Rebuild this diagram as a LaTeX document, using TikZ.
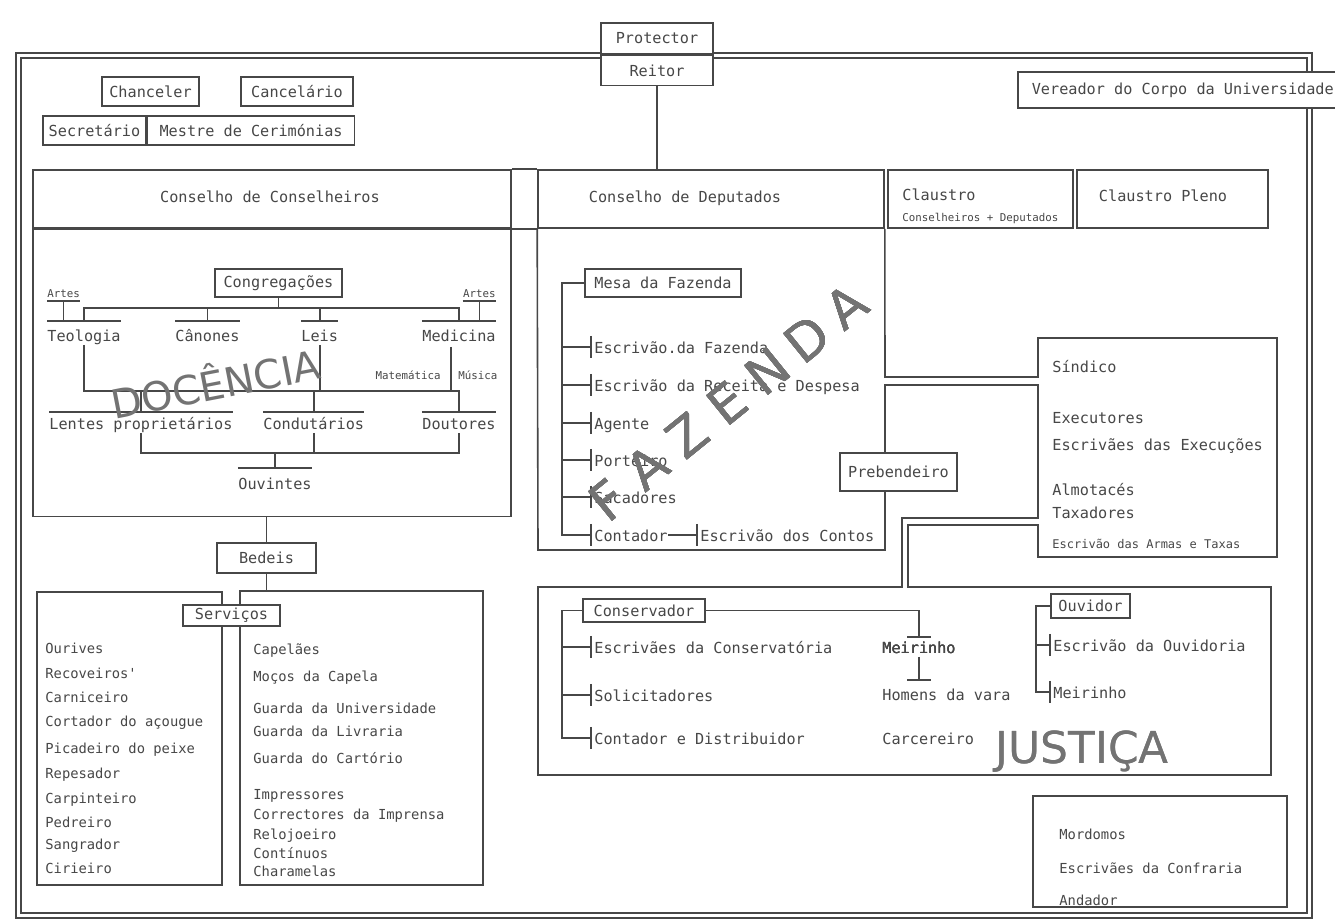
\documentclass[tikz,border=0pt]{standalone}
\usepackage{fontspec}
\setmainfont{DejaVu Sans}
\setmonofont{DejaVu Sans Mono}
\usetikzlibrary{positioning}
\definecolor{ink}{gray}{0.28}
\definecolor{stencil}{gray}{0.45}
\newcommand{\fmain}{\ttfamily\fontsize{7.6}{9}\selectfont}
\newcommand{\flist}{\ttfamily\fontsize{6.9}{8}\selectfont}
\newcommand{\fmid}{\ttfamily\fontsize{6}{7}\selectfont}
\newcommand{\fsmall}{\ttfamily\fontsize{5.4}{6}\selectfont}
\newcommand{\fbig}[1]{\normalfont\fontsize{#1}{#1}\selectfont}
\tikzset{%
    wire/.style={draw=ink,line width=.8pt},%
    sz/.style 2 args={minimum width=#1*.5pt,minimum height=#2*.5pt},%
    box/.style={wire,fill=white,inner sep=0pt,font=\fmain,text=ink},%
    lbl/.style={font=\fmain,text=ink,inner sep=0pt,text height=1.5ex,text depth=.25ex},%
    entry/.style={lbl,anchor=west},%
    lst/.style={entry,font=\flist},%
    minor/.style={lbl,font=\fsmall},%
    stamp/.style={font=\fbig{#1},text=stencil,inner sep=0pt}%
}
% little bar in front of a list entry
\newcommand{\brtick}[1]{%
  \draw[wire] ([xshift=-1.5pt,yshift=5.5pt]#1.west) -- ++(0,22);
}

\begin{document}
\begin{tikzpicture}[x=.5pt,y=-.5pt]
  \useasboundingbox[fill=white] (0,0) rectangle (1335,924);
  \clip (0,0) rectangle (1335,924);

  % double frame
  \draw[wire] (16,53) rectangle (1312,918);
  \draw[wire] (21,58) rectangle (1307,913);

  % head of the university
  \node[box,sz={112}{31}] (prot) at (657,38.5) {Protector};
  \node[box,sz={112}{30},anchor=north] (reit) at (prot.south) {Reitor};
  \node[box,sz={97}{29}] (chanc) at (150.5,91.5) {Chanceler};
  \node[box,sz={112}{29}] (cancl) at (297,91.5) {Cancelário};
  \node[box,sz={103}{29}] (secr) at (94.5,130.5) {Secretário};
  \node[box,sz={207}{29},anchor=west] (mestre) at (secr.east) {Mestre de Cerimónias};
  \node[box,sz={330}{36},anchor=west] (vere) at (1017,90) {Vereador do Corpo da Universidade};

  % councils
  \node[box,sz={478}{58}] (hcons) at (272,199) {};
  \node[box,sz={346}{58}] (hdep) at (711,199) {};
  \node[box,sz={185}{58}] (claus) at (980.5,199) {};
  \node[box,sz={191}{58}] (pleno) at (1172.5,199) {};
  \draw[wire] (hcons.north east) -- (hdep.north west) (hcons.south east) -- (hdep.south west);
  \node[lbl] (tcons) at (270,196) {Conselho de Conselheiros};
  \node[lbl] (tdep) at (685,196) {Conselho de Deputados};
  \node[lbl,anchor=west] (tclaus) at (902,194) {Claustro};
  \node[minor,anchor=west] (tcd) at (902,215) {Conselheiros + Deputados};
  \node[lbl] (tpleno) at (1163,195) {Claustro Pleno};
  \draw[wire] (reit.south) -- (reit.south |- hdep.north);

  % docencia
  \node[box,sz={478}{287},anchor=north] (docbox) at (hcons.south) {};
  \node[box,sz={127}{28}] (cong) at (278.5,283) {Congregações};
  \node[entry] (teo) at (47,335) {Teologia};
  \node[entry] (can) at (175,335) {Cânones};
  \node[entry] (leis) at (301,335) {Leis};
  \node[entry,anchor=east] (med) at (496,335) {Medicina};
  \node[minor,anchor=south west] (artl) at (47,301) {Artes};
  \node[minor,anchor=south east] (artr) at (496,301) {Artes};
  \draw[wire] (cong.south) -- (cong.south |- 0,308);
  \draw[wire] (teo.north |- 0,321) |- (med.north |- 0,308) -- (med.north |- 0,321);
  \draw[wire] (can.north |- 0,308) -- (can.north |- 0,321);
  \draw[wire] (leis.north |- 0,308) -- (leis.north |- 0,321);
  \foreach \n in {teo,can,leis,med}
    \draw[wire] (\n.west |- 0,321) -- (\n.east |- 0,321);
  \foreach \n in {artl,artr}
    \draw[wire] (\n.south west) -- (\n.south east) (\n.south) -- (\n.south |- 0,321);

  \node[entry] (lent) at (49,423) {Lentes proprietários};
  \node[entry] (cond) at (263,423) {Condutários};
  \node[entry,anchor=east] (dout) at (496,423) {Doutores};
  \node[minor,anchor=east] (mat) at (441,373) {Matemática};
  \node[minor,anchor=west] (mus) at (458,373) {Música};
  \coordinate (mline) at (451,347);
  \draw[wire] (teo.south) |- (dout.north |- 0,391) -- (dout.north |- 0,412);
  \draw[wire] (leis.south) -- (leis.south |- 0,391);
  \draw[wire] (mline) -- (mline |- 0,391);
  \draw[wire] (lent.north |- 0,391) -- (lent.north |- 0,412);
  \draw[wire] (cond.north |- 0,391) -- (cond.north |- 0,412);
  \foreach \n in {lent,cond,dout}
    \draw[wire] (\n.west |- 0,412) -- (\n.east |- 0,412);

  \node[lbl] (ouv) at (275,483) {Ouvintes};
  \draw[wire] (lent.south) |- (dout.south |- 0,453) -- (dout.south);
  \draw[wire] (cond.south) -- (cond.south |- 0,453);
  \draw[wire] (ouv.north |- 0,453) -- (ouv.north |- 0,468);
  \draw[wire] (ouv.west |- 0,468) -- (ouv.east |- 0,468);
  \node[stamp=20,rotate=11] (doc) at (215,381) {DOCÊNCIA};

  % fazenda, sindico and justica outline
  \draw[wire] (hdep.south east) -- (885,377) -- (1038,377) -- (1038,338)
    -- (1277,338) -- (1277,557) -- (1038,557) -- (1038,525) -- (908,525)
    -- (908,587) -- (1271,587) -- (1271,775) -- (538,775) -- (538,587)
    -- (902,587) -- (902,518) -- (1038,518) -- (1038,385) -- (885,385)
    -- (885,550) -- (538,550) -- (hdep.south west);

  \node[box,sz={156}{28}] (mesa) at (663,283) {Mesa da Fazenda};
  \node[entry] (ef) at (594,347) {Escrivão.da Fazenda};
  \node[entry] (er) at (594,385) {Escrivão da Receita e Despesa};
  \node[entry] (ag) at (594,423) {Agente};
  \node[entry] (po) at (594,460) {Porteiro};
  \node[entry] (sa) at (594,497) {Sacadores};
  \node[entry] (co) at (594,535) {Contador};
  \node[entry] (ec) at (700,535) {Escrivão dos Contos};
  \draw[wire] (mesa.west) -- ++(-22,0) |- ([xshift=-1.5pt]co.west);
  \foreach \n in {ef,er,ag,po,sa}
    \draw[wire] ([xshift=-1.5pt]\n.west) -- ++(-28,0);
  \draw[wire] (co.east) -- ([xshift=-1.5pt]ec.west);
  \foreach \n in {ef,er,ag,po,sa,co,ec}
    \brtick{\n}
  \foreach \c [count=\i from 0] in {F,A,Z,E,N,D,A}
    \node[stamp=26,rotate=39] (fz\i) at ({608+\i*39.8},{500-\i*32.2}) {\c};

  \node[entry] (sind) at (1052,366) {Síndico};
  \node[entry] (exe) at (1052,417) {Executores};
  \node[entry] (esx) at (1052,444) {Escrivães das Execuções};
  \node[entry] (alm) at (1052,489) {Almotacés};
  \node[entry] (tax) at (1052,512) {Taxadores};
  \node[entry,font=\fmid] (arm) at (1052,542) {Escrivão das Armas e Taxas};
  \node[box,sz={117}{38}] (preb) at (898.5,472) {Prebendeiro};

  \node[box,sz={122}{23}] (consv) at (644,610.5) {Conservador};
  \node[entry] (ecv) at (594,647) {Escrivães da Conservatória};
  \node[entry] (sol) at (594,695) {Solicitadores};
  \node[entry] (cdi) at (594,738) {Contador e Distribuidor};
  \draw[wire] (consv.west) -- ++(-20,0) |- ([xshift=-1.5pt]cdi.west);
  \foreach \n in {ecv,sol}
    \draw[wire] ([xshift=-1.5pt]\n.west) -- ++(-28,0);
  \foreach \n in {ecv,sol,cdi}
    \brtick{\n}
  \node[entry] (mei) at (882,647) {Meirinho};
  \node[entry] (hom) at (882,694) {Homens da vara};
  \node[entry] (carc) at (882,738) {Carcereiro};
  \coordinate (mtop) at (mei.north |- 0,637);
  \coordinate (htop) at (mei.north |- 0,680);
  \draw[wire] (consv.east) -| (mtop);
  \draw[wire] (mei.south) -- (htop);
  \foreach \p in {mtop,htop}
    \draw[wire] ([xshift=-6pt]\p) -- ([xshift=6pt]\p);

  \node[box,sz={79}{24}] (ouvd) at (1090.5,606) {Ouvidor};
  \node[entry] (eov) at (1053,645) {Escrivão da Ouvidoria};
  \node[entry] (omei) at (1053,692) {Meirinho};
  \draw[wire] (ouvd.west) -- ++(-14,0) |- ([xshift=-1.5pt]omei.west);
  \draw[wire] ([xshift=-1.5pt]eov.west) -- ++(-13,0);
  \foreach \n in {eov,omei}
    \brtick{\n}
  \node[stamp=22] (jus) at (1082,752) {JUSTIÇA};

  % confraria
  \node[box,sz={254}{111}] (confr) at (1160,851.5) {};
  \node[lst] (mord) at (1059,833) {Mordomos};
  \node[lst] (escf) at (1059,867) {Escrivães da Confraria};
  \node[lst] (anda) at (1059,899) {Andador};

  % bedeis and services
  \node[box,sz={99}{30}] (bed) at (266.5,558) {Bedeis};
  \node[box,sz={185}{293}] (srvl) at (129.5,738.5) {};
  \node[box,sz={243}{294}] (srvr) at (361.5,738) {};
  \draw[wire] (bed.north |- docbox.south) -- (bed.north);
  \draw[wire] (bed.south) -- (bed.south |- srvr.north);
  \node[box,sz={97}{21}] (serv) at (231.5,615.5) {Serviços};
  \foreach \y/\t [count=\i] in {647/Ourives,672/Recoveiros',696/Carniceiro,
      720/Cortador do açougue,747/Picadeiro do peixe,772/Repesador,
      797/Carpinteiro,821/Pedreiro,843/Sangrador,867/Cirieiro}
    \node[lst] (sl\i) at (45,\y) {\t};
  \foreach \y/\t [count=\i] in {648/Capelães,675/Moços da Capela,
      707/Guarda da Universidade,730/Guarda da Livraria,757/Guarda do Cartório,
      793/Impressores,813/Correctores da Imprensa,833/Relojoeiro,
      852/Contínuos,870/Charamelas}
    \node[lst] (sr\i) at (253,\y) {\t};
\end{tikzpicture}
\end{document}
